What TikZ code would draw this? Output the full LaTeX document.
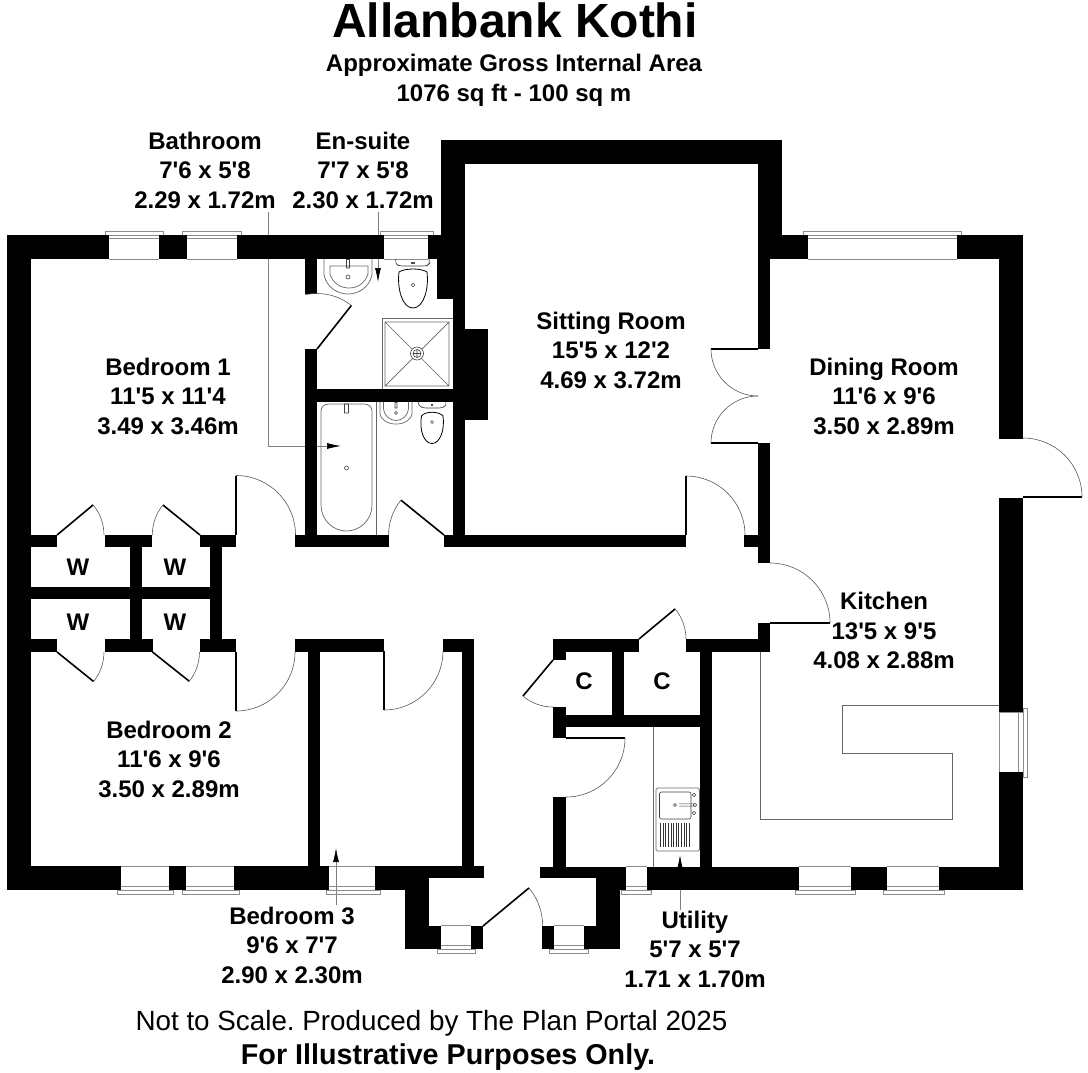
\documentclass[tikz,border=0pt]{standalone}
\usepackage{fontspec}
\newfontfamily\lab{Liberation Sans}
\usetikzlibrary{arrows.meta}
\frenchspacing
\tikzset{
  wall/.style={fill=black,draw=none},
  leaf/.style={draw=black,line width=1.6pt},
  bigleaf/.style={draw=black,line width=1.1pt},
  swingarc/.style={draw=black!65,line width=0.6pt},
  glass/.style={draw=black!45,line width=0.7pt},
  fitting/.style={draw=black!60,line width=0.7pt},
  bowl/.style={draw=black,line width=0.8pt},
  leader/.style={draw=black!50,line width=0.7pt,-{Latex[black,length=14pt,width=6pt]}},
  room/.style={font=\lab\fontsize{24}{29.5}\selectfont\bfseries,align=center,text=black},
  tag/.style={font=\lab\fontsize{24}{24}\selectfont\bfseries,text=black}
}
\newcommand{\W}[4]{\fill[wall] (#1,#2) rectangle (#3,#4);}
% door: leaf style, hinge x,y, radius, leaf angle, closed angle
\newcommand{\door}[6]{%
  \draw[#1] (#2,#3) -- ({#2+#4*cos(#5)},{#3+#4*sin(#5)});
  \draw[swingarc] ({#2+#4*cos(#5)},{#3+#4*sin(#5)}) arc[start angle=#5,end angle=#6,radius=#4];}
% top window: x1 x2 sill-x1 sill-x2
\newcommand{\wintop}[4]{%
  \draw[glass] (#3,235) -- (#3,231) -- (#4,231) -- (#4,235) (#1,235) -- (#2,235) (#1,238.5) -- (#2,238.5) (#1,259) -- (#2,259);}
% window in a bottom wall: x1 x2 sill-x1 sill-x2 inner-y
\newcommand{\winbot}[5]{%
  \draw[glass] (#1,#5) -- (#2,#5) (#1,{#5+20}) -- (#2,{#5+20}) (#3,{#5+24}) -- (#4,{#5+24}) (#3,{#5+24}) -- (#3,{#5+28}) -- (#4,{#5+28}) -- (#4,{#5+24});}
\begin{document}
\begin{tikzpicture}[x=1pt,y=-1pt]
\useasboundingbox (0,0) rectangle (1088,1072);
\fill[white] (0,0) rectangle (1088,1072);

% leaders (walls are painted over them)
\coordinate (bathA) at (268,212); \coordinate (bathB) at (268,446); \coordinate (bathC) at (341,446);
\coordinate (ensA) at (378,212);  \coordinate (ensB) at (378,282);
\coordinate (bedA) at (336,905);  \coordinate (bedB) at (336,848);
\coordinate (utlA) at (680,910);  \coordinate (utlB) at (680,855);
\draw[leader] (bathA) -- (bathB) -- (bathC);
\draw[leader] (ensA) -- (ensB);
\draw[leader] (bedA) -- (bedB);
\draw[leader] (utlA) -- (utlB);

% windows
\wintop{109}{159}{105}{163}
\wintop{187}{237}{182}{241}
\wintop{384}{428}{380}{433}
\wintop{808}{957}{803}{961}
\winbot{121}{169}{117.5}{173.5}{866}
\winbot{186}{234}{182}{239}{866}
\winbot{329}{375}{326}{380}{866}
\winbot{626}{647}{621}{651}{866}
\winbot{799}{851}{795}{855}{866}
\winbot{887}{939}{883}{944}{866}
\winbot{441}{471}{437}{475}{925}
\winbot{554}{584}{549}{588}{925}
\draw[glass] (999,712) -- (1023,712) (999,772) -- (1023,772) (999,712) -- (999,772) (1018,712) -- (1018,772) (1023,708) -- (1027,708) -- (1027,777) -- (1023,777) (1023,708) -- (1023,777);

% fittings: kitchen and utility worktops
\draw[fitting] (760,652) -- (760,819) -- (952,819) -- (952,753) -- (842,753) -- (842,705.5) -- (999,705.5);
\draw[fitting] (653,727) -- (653,867);
% utility sink
\draw[fitting,rounded corners=1.5pt] (656,788) rectangle (699.5,851);
\draw[draw=black!75,line width=0.6pt,rounded corners=2pt] (659.5,792) rectangle (691,819);
\draw[draw=black!75,line width=0.5pt] (675,805) circle (1.5) (679,803.8) -- (694,803.8) (679,806.2) -- (694,806.2) (695,805) circle (1.8) (694,795) circle (1.8) (694,813) circle (1.8);
\foreach \i in {0,...,11}{\draw[black!80,line width=0.7pt] ({660.5+\i*2.6},823) -- ({660.5+\i*2.6},847);}
% en-suite basin
\draw[fitting] (324,259) -- (324,275) .. controls (327,288) and (338,294) .. (348,294) .. controls (358,294) and (369,288) .. (372,275) -- (372,259);
\draw[fitting] (330,266) -- (330,274) .. controls (333,283) and (340,288) .. (349,288) .. controls (358,288) and (365,283) .. (368,274) -- (368,266) -- cycle;
\draw[draw=black!75,line width=0.6pt] (348,277) circle (2) (346.5,259.5) rectangle (349.5,268);
% en-suite toilet
\draw[draw=black!75,line width=0.6pt,rounded corners=3pt] (396,259) -- (395,263) -- (399,266) -- (427,266) -- (430,263) -- (429,259);
\draw[bowl] (399,272) .. controls (405,268) and (421,268) .. (427,272) .. controls (429,288) and (424,308) .. (413,308) .. controls (402,308) and (397,288) .. (399,272) -- cycle;
\draw[fitting] (413,285) circle (1.8);
\fill[black!70] (411,262) rectangle (415,263.5);
% shower
\draw[fitting] (382,389) -- (382,318) -- (453,318);
\draw[fitting] (385,322) rectangle (449,386) (385,322) -- (449,386) (449,322) -- (385,386);
\fill[white] (417,353.5) circle (6.5);
\draw[draw=black!75,line width=0.6pt] (417,353.5) circle (6.5) (417,353.5) circle (4) (413,353.5) -- (421,353.5) (417,349.5) -- (417,357.5);
% bath
\draw[fitting] (376,402) -- (376,535);
\draw[fitting] (329,404) -- (364,404) .. controls (369,404) and (372,407) .. (372,411) -- (372,505) .. controls (372,520) and (360,531) .. (346.5,531) .. controls (333,531) and (321,520) .. (321,505) -- (321,411) .. controls (321,407) and (324,404) .. (329,404) -- cycle;
\draw[draw=black!75,line width=0.6pt] (346.5,468) circle (2) (344.5,404) rectangle (348.5,413);
% bathroom basin
\draw[fitting] (380,402) -- (380,414) .. controls (382,421) and (388,424) .. (396,424) .. controls (404,424) and (410,421) .. (412,414) -- (412,402);
\draw[fitting] (383.5,408) .. controls (384,416) and (390,420.5) .. (396,420.5) .. controls (402,420.5) and (408,416) .. (408.5,408) -- (408.5,402) (383.5,402) -- (383.5,408);
\draw[draw=black!75,line width=0.6pt] (396,413) circle (1.5) (395,402.5) rectangle (397,408);
% bathroom toilet
\draw[draw=black!75,line width=0.6pt,rounded corners=3pt] (418,402.5) -- (418,405) -- (423,408) -- (442,408) -- (447,405) -- (446,402.5);
\draw[bowl] (421.5,416) .. controls (425,411) and (439,411) .. (443,416) .. controls (445,430) and (440,443.5) .. (432,443.5) .. controls (424,443.5) and (419,430) .. (421.5,416) -- cycle;
\draw[fitting] (432,422) circle (1.5);
\fill[black!70] (431,404) rectangle (433,405.5);

% external and sitting-room walls
\W{7}{235}{31}{890}
\W{7}{235}{109}{259} \W{159}{235}{187}{259} \W{237}{235}{384}{259}
\W{428}{235}{465}{259} \W{441}{140}{465}{235} \W{437}{259}{465}{299} \W{453}{299}{465}{547}
\W{465}{329}{488}{420}
\W{441}{140}{782}{164} \W{758}{140}{782}{235} \W{758}{235}{808}{259}
\W{758}{259}{770}{349} \W{758}{443}{770}{563} \W{744}{535}{770}{547}
\W{758}{623}{770}{652} \W{686}{639}{770}{652}
\W{957}{235}{1023}{259} \W{999}{259}{1023}{439} \W{999}{498}{1023}{712} \W{999}{772}{1023}{890}
% south wall and porch
\W{7}{866}{121}{890} \W{169}{866}{186}{890} \W{234}{866}{329}{890} \W{375}{866}{405}{890}
\W{375}{866}{484}{878} \W{405}{878}{429}{949} \W{429}{926}{441}{949} \W{471}{926}{483}{949}
\W{540}{867}{620}{878} \W{596}{878}{620}{949} \W{584}{926}{596}{949} \W{542}{926}{554}{949}
\W{596}{867}{626}{890} \W{647}{867}{799}{890} \W{851}{867}{887}{890} \W{939}{867}{1023}{890}
% bathrooms
\W{305}{259}{317}{294} \W{305}{349}{317}{547} \W{295}{535}{389}{547} \W{444}{535}{686}{547}
\W{317}{389}{453}{402}
% wardrobes
\W{31}{535}{57}{547} \W{104.5}{535}{152}{547} \W{200}{535}{236}{547}
\W{31}{587}{222}{599} \W{130}{547}{142}{639} \W{210}{547}{222}{639}
\W{31}{639}{57}{652} \W{104.5}{639}{152.5}{652} \W{200}{639}{236}{652}
% bedroom 3
\W{295}{639}{384}{652} \W{308}{652}{320}{866} \W{443}{639}{474}{652} \W{462}{652}{474}{867}
% cupboards and utility
\W{553}{639}{639}{652} \W{553}{652}{566}{660} \W{553}{707}{566}{738} \W{566}{715}{700}{727}
\W{612}{652}{624}{715} \W{686}{639}{712}{652} \W{700}{652}{712}{867} \W{553}{797}{566}{867}

% doors
\door{bigleaf}{236}{535}{59.5}{-90}{0}
\door{bigleaf}{236}{652}{59}{90}{0}
\door{bigleaf}{384}{651}{59}{90}{0}
\door{bigleaf}{686}{535}{59}{-90}{0}
\door{bigleaf}{770}{623}{60}{0}{-90}
\door{bigleaf}{1023}{497}{59}{0}{-90}
\door{bigleaf}{566}{738}{59}{0}{90}
\door{bigleaf}{758}{349}{47}{180}{90}
\door{bigleaf}{758}{443}{47}{180}{270}
\door{leaf}{317}{349}{55.5}{-51.7}{-102.3}
\door{leaf}{444}{535}{55.4}{219}{180}
\door{leaf}{57}{535}{47}{-39.8}{0}
\door{leaf}{200}{535}{47.7}{219}{180}
\door{leaf}{57}{652}{47}{38.9}{0}
\door{leaf}{152.5}{652}{47}{38.5}{0}
\door{leaf}{553}{660}{47}{129.8}{90}
\door{leaf}{639}{639}{47}{-39.8}{0}
\door{leaf}{483}{926}{59.7}{-39.6}{0}

% text
\node (title) at (515,20) {\lab\fontsize{48}{48}\selectfont\bfseries Allanbank Kothi};
\node[room] (area) at (514,77.5) [yshift=-3pt] {Approximate Gross Internal Area\\1076 sq ft - 100 sq m};
\node[room] (bath) at (205,170) {Bathroom\\7'6 x 5'8\\2.29 x 1.72m};
\node[room] (ens) at (363,170) {En-suite\\7'7 x 5'8\\2.30 x 1.72m};
\node[room] (sit) at (611,350) {Sitting Room\\15'5 x 12'2\\4.69 x 3.72m};
\node[room] (bed1) at (168,396) {Bedroom 1\\11'5 x 11'4\\3.49 x 3.46m};
\node[room] (din) at (884,396) {Dining Room\\11'6 x 9'6\\3.50 x 2.89m};
\node[room] (kit) at (884,630.5) {Kitchen\\13'5 x 9'5\\4.08 x 2.88m};
\node[room] (bed2) at (169,759) {Bedroom 2\\11'6 x 9'6\\3.50 x 2.89m};
\node[room] (bed3) at (292,945) {Bedroom 3\\9'6 x 7'7\\2.90 x 2.30m};
\node[room] (utl) at (695,949) {Utility\\5'7 x 5'7\\1.71 x 1.70m};
\node[tag] (w1) at (78,567) {W};
\node[tag] (w2) at (175,567) {W};
\node[tag] (w3) at (78,622) {W};
\node[tag] (w4) at (175,622) {W};
\node[tag] (c1) at (584,681) {C};
\node[tag] (c2) at (662,681) {C};
\node (note) at (431.5,1023) {\frenchspacing\lab\fontsize{27.8}{27.8}\selectfont Not to Scale. Produced by The Plan Portal 2025};
\node (illus) at (448,1057) {\lab\fontsize{28.7}{28.7}\selectfont\bfseries For Illustrative Purposes Only.};
\end{tikzpicture}
\end{document}
